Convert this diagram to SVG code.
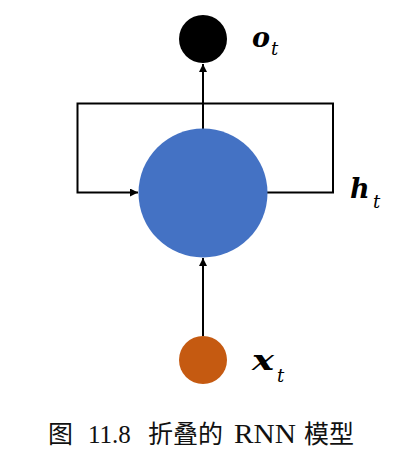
<svg xmlns="http://www.w3.org/2000/svg" width="404" height="462" viewBox="0 0 404 462">
<defs>
<style>
.ln{fill:none;stroke:#000;stroke-width:2}
.lbl{font-family:"DejaVu Serif","Liberation Serif",serif;font-weight:bold;font-style:italic;fill:#000;font-size:27px}
.sub{font-size:18px;font-weight:normal}
.cap{font-family:"Liberation Serif","Noto Sans CJK SC",serif;font-size:25px;fill:#111}
</style>
<marker id="ah2" viewBox="0 0 10 10" refX="10" refY="5" markerWidth="8" markerHeight="8" orient="auto" markerUnits="userSpaceOnUse">
<path d="M0,0 L10,5 L0,10 z" fill="#000"/>
</marker>
</defs>
<rect width="404" height="462" fill="#fff"/>
<g id="connectors">
<path class="ln" d="M203,130 V64" marker-end="url(#ah2)"/>
<path class="ln" d="M267,192.5 H333 V103.5 H77.5 V192.5 H138" marker-end="url(#ah2)"/>
<path class="ln" d="M203,336 V258" marker-end="url(#ah2)"/>
</g>
<g id="node-o">
<circle cx="203" cy="39" r="24" fill="#000"/>
<text class="lbl" x="252" y="47">o<tspan class="sub" x="271" y="55">t</tspan></text>
</g>
<g id="node-h">
<circle cx="203" cy="193" r="64.5" fill="#4472C4"/>
<text class="lbl" x="350" y="198">h<tspan class="sub" x="373" y="208">t</tspan></text>
</g>
<g id="node-x">
<circle cx="203" cy="360" r="24" fill="#C55A11"/>
<text class="lbl" x="252" y="370"><tspan textLength="22" lengthAdjust="spacingAndGlyphs">x</tspan><tspan class="sub" x="277" y="382">t</tspan></text>
</g>
<g id="caption">
<text class="cap" y="443"><tspan x="48">图</tspan><tspan x="88">11.8</tspan><tspan x="148">折叠的</tspan><tspan x="234" font-size="27" textLength="62" lengthAdjust="spacingAndGlyphs">RNN</tspan><tspan x="304">模型</tspan></text>
</g>
</svg>
